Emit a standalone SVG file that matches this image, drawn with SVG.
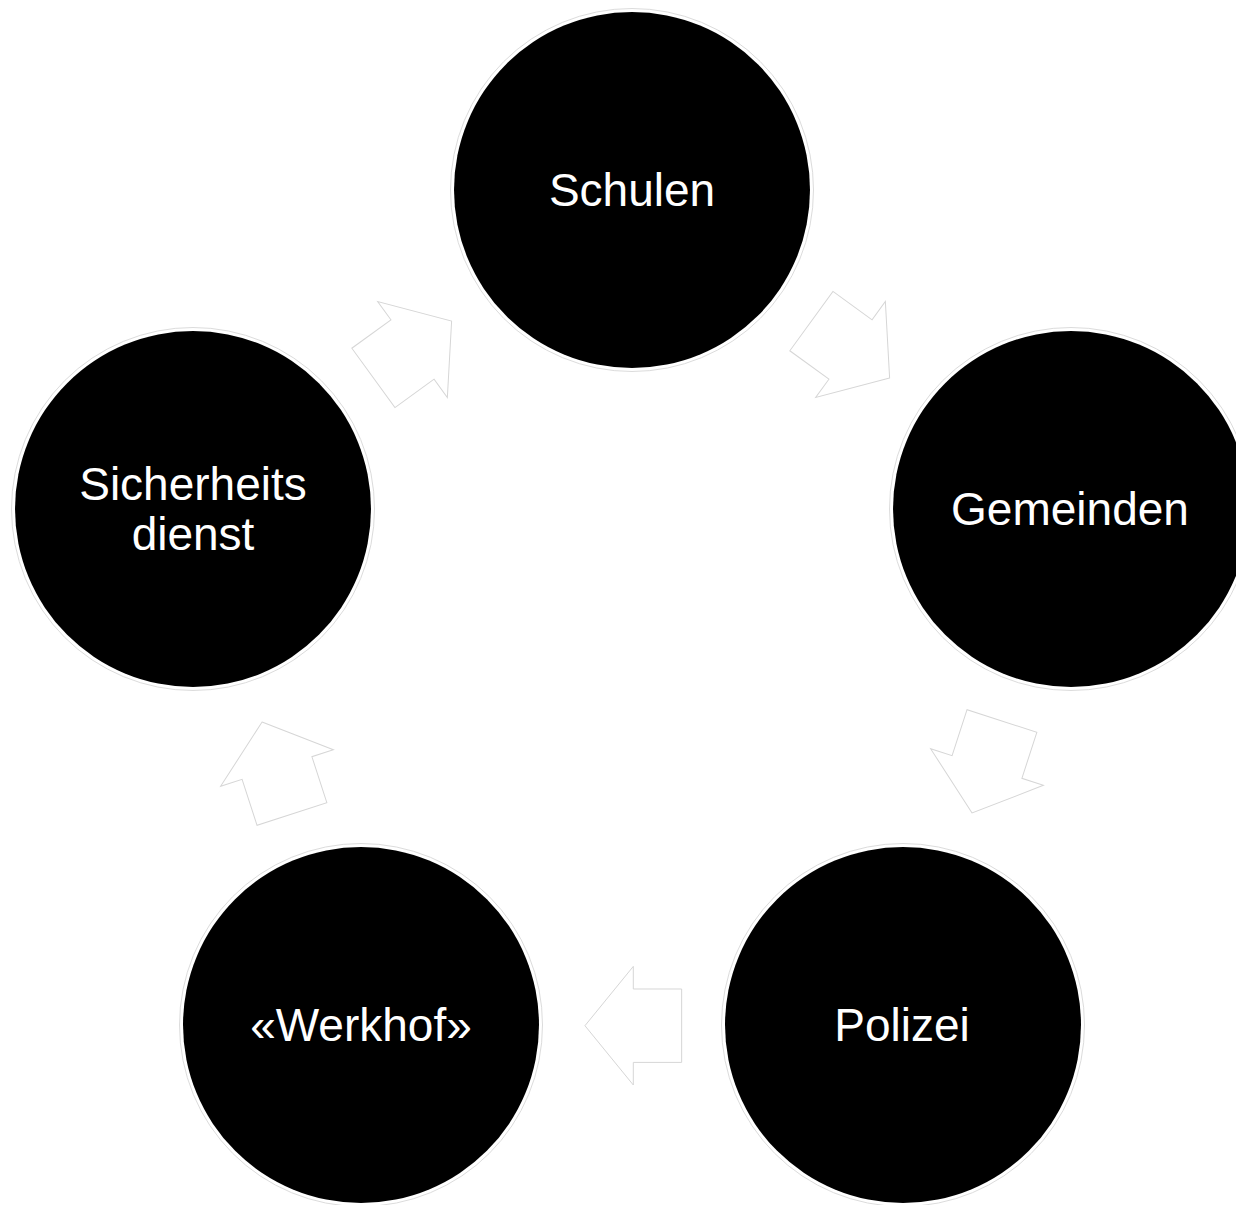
<svg xmlns="http://www.w3.org/2000/svg" xmlns:xlink="http://www.w3.org/1999/xlink" width="1236" height="1205" viewBox="0 0 1236 1205">
<style>
.ring{fill:#ffffff;stroke:#dcdcdc;stroke-width:1}
.disc{fill:#000000}
.lbl{fill:#ffffff;font-family:"Liberation Sans",Arial,sans-serif;font-size:46px;text-anchor:middle}
.arr{fill:#ffffff;stroke:#d6d6d6;stroke-width:1;stroke-linejoin:miter}
</style>
<defs>
<path id="blockArrow" d="M48.35,0 L0,59.3 L0,36.7 L-48.35,36.7 L-48.35,-36.7 L0,-36.7 L0,-59.3 Z"/>
</defs>
<rect width="1236" height="1205" fill="#ffffff"/>
<g id="connectors">
<use xlink:href="#blockArrow" class="arr" transform="translate(850.5,349.5) rotate(36)"/>
<use xlink:href="#blockArrow" class="arr" transform="translate(987,767) rotate(108)"/>
<use xlink:href="#blockArrow" class="arr" transform="translate(633.3,1025.7) rotate(180)"/>
<use xlink:href="#blockArrow" class="arr" transform="translate(277,768) rotate(252)"/>
<use xlink:href="#blockArrow" class="arr" transform="translate(412.5,349.5) rotate(324)"/>
</g>
<g id="node-schulen">
<circle class="ring" cx="632" cy="190" r="181.5"/>
<circle class="disc" cx="632" cy="190" r="178"/>
<text class="lbl" x="632" y="206">Schulen</text>
</g>
<g id="node-gemeinden">
<circle class="ring" cx="1071" cy="509" r="181.5"/>
<circle class="disc" cx="1071" cy="509" r="178"/>
<text class="lbl" x="1070" y="525">Gemeinden</text>
</g>
<g id="node-polizei">
<circle class="ring" cx="903" cy="1025" r="181.5"/>
<circle class="disc" cx="903" cy="1025" r="178"/>
<text class="lbl" x="902" y="1041">Polizei</text>
</g>
<g id="node-werkhof">
<circle class="ring" cx="361" cy="1025" r="181.5"/>
<circle class="disc" cx="361" cy="1025" r="178"/>
<text class="lbl" x="361" y="1041">«Werkhof»</text>
</g>
<g id="node-sicherheitsdienst">
<circle class="ring" cx="193" cy="509" r="181.5"/>
<circle class="disc" cx="193" cy="509" r="178"/>
<text class="lbl" x="193" y="500">Sicherheits</text>
<text class="lbl" x="193" y="550">dienst</text>
</g>
</svg>
